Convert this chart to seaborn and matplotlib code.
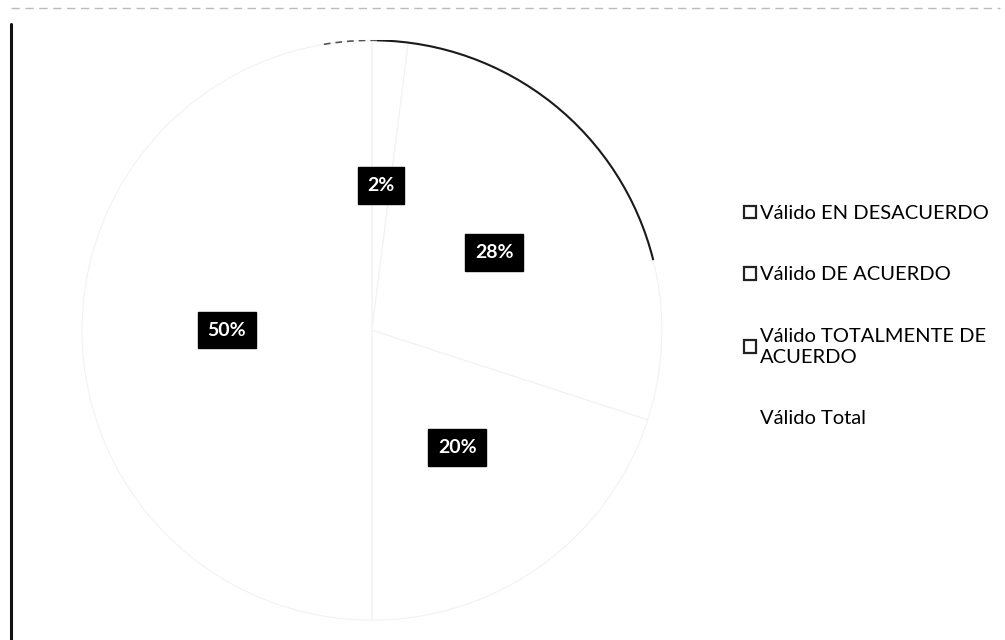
import matplotlib
matplotlib.use('Agg')
import matplotlib.pyplot as plt
import matplotlib.patches as mpatches
import seaborn as sns

# Data (counts giving 2 / 28 / 20 / 50 %)
categories = [
    "Válido EN DESACUERDO",
    "Válido DE ACUERDO",
    "Válido TOTALMENTE DE\nACUERDO",
    "Válido Total",
]
counts = [1, 14, 10, 25]

sns.set_theme(style="white")
plt.rcParams['font.family'] = ['Lato', 'DejaVu Sans']

fig = plt.figure(figsize=(10.05, 6.4), dpi=100)
ax = fig.add_axes([0.0816, 0.031, 0.577, 0.906])

slice_colors = ["white"] * len(counts)
wedges, texts, autotexts = ax.pie(
    counts,
    colors=slice_colors,
    startangle=90,
    counterclock=False,
    radius=1.0,
    autopct=lambda p: f"{p:.0f}%",
    pctdistance=0.5,
    wedgeprops=dict(edgecolor="#f2f2f2", linewidth=0.8),
    textprops=dict(color="white", fontsize=14, fontweight="bold"),
)
for t in autotexts:
    t.set_bbox(dict(boxstyle="square,pad=0.5", facecolor="black", edgecolor="black"))

# darker outline on the upper-right part of the pie, as on the scan
arc = mpatches.Arc((0, 0), 2.0, 2.0, theta1=14, theta2=89,
                   color="#1a1a1a", linewidth=1.5)
ax.add_patch(arc)
arc2 = mpatches.Arc((0, 0), 2.0, 2.0, theta1=89, theta2=100,
                    color="#555555", linewidth=1.2, linestyle=(0, (4, 3)))
ax.add_patch(arc2)

ax.set_xlim(-1.0, 1.0)
ax.set_ylim(-1.0, 1.0)
ax.set_aspect("equal")
ax.axis("off")

handles = []
for i, lab in enumerate(categories):
    ec = "#222222" if i < 3 else "white"
    handles.append(mpatches.Patch(facecolor="white", edgecolor=ec, linewidth=1.6, label=lab))

leg = fig.legend(
    handles=handles,
    loc="upper left",
    bbox_to_anchor=(0.722, 0.708),
    frameon=False,
    fontsize=14.5,
    labelspacing=2.2,
    handlelength=0.6,
    handleheight=0.6,
    handletextpad=0.2,
)
for t in leg.get_texts():
    t.set_color("#000000")
    t.set_linespacing(1.3)

# chart-area border (left edge dark, top edge faint)
fig.add_artist(plt.Line2D([0.011, 0.011], [0.0, 0.962], color="#111111", linewidth=2.2,
                          transform=fig.transFigure))
fig.add_artist(plt.Line2D([0.011, 0.995], [0.988, 0.988], color="#bbbbbb", linewidth=1.0,
                          linestyle=(0, (6, 4)), transform=fig.transFigure))

fig.savefig("out.png", dpi=100)
